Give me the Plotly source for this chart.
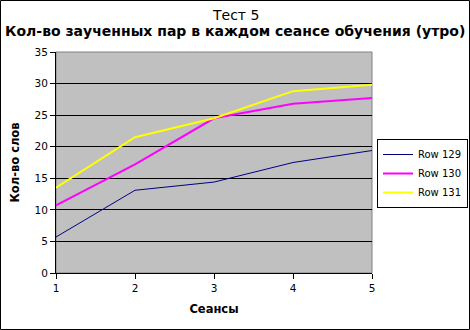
import plotly.graph_objects as go

sessions = [1, 2, 3, 4, 5]
row129 = [5.7, 13.1, 14.4, 17.5, 19.4]
row130 = [10.7, 17.2, 24.5, 26.8, 27.7]
row131 = [13.5, 21.5, 24.5, 28.8, 29.8]
series_names = ["Row 129", "Row 130", "Row 131"]
colors = ["#000080", "#FF00FF", "#FFFF00"]
widths = [1, 2, 2]
title_line1 = "Тест 5"
title_line2 = "Кол-во заученных пар в каждом сеансе обучения (утро)"

W, H = 470, 330
L, R, T, B = 56, 98, 52, 57
pw, ph = W - L - R, H - T - B

def py(pix):
    return (T + ph - pix) / ph

def px(pix):
    return (pix - L) / pw

fig = go.Figure()
for name, vals, c, w in zip(series_names, [row129, row130, row131], colors, widths):
    fig.add_trace(go.Scatter(x=sessions, y=vals, mode="lines", name=name,
                             line=dict(color=c, width=w)))

font = "DejaVu Sans, sans-serif"
fig.update_layout(
    width=W, height=H,
    margin=dict(l=L, r=R, t=T, b=B, pad=0, autoexpand=False),
    paper_bgcolor="white", plot_bgcolor="#C0C0C0",
    font=dict(family=font, size=10, color="black"),
    showlegend=True,
    legend=dict(x=377 / W, y=1 - 139 / H, xref="container", yref="container",
                xanchor="left", yanchor="top", itemwidth=30,
                bordercolor="black", borderwidth=1, bgcolor="white",
                font=dict(size=10, family=font), tracegroupgap=0),
    xaxis=dict(range=[1, 5], tickvals=sessions, ticks="outside", ticklen=5,
               tickcolor="black", showline=True, linecolor="black", linewidth=1,
               showgrid=False, zeroline=False, mirror=False,
               tickfont=dict(size=10.5),
               title=dict(text="<b>Сеансы</b>", font=dict(size=11.5), standoff=12)),
    yaxis=dict(range=[0, 35], dtick=5, ticks="outside", ticklen=5,
               tickcolor="black", showline=True, linecolor="black", linewidth=1,
               showgrid=True, gridcolor="black", gridwidth=1, zeroline=False,
               tickfont=dict(size=10.5),
               title=dict(text="<b>Кол-во слов</b>", font=dict(size=11.5), standoff=12)),
)
fig.add_annotation(text=title_line1, xref="paper", yref="paper", x=px(235), y=py(15),
                   xanchor="center", yanchor="middle", showarrow=False,
                   font=dict(size=14, family=font))
fig.add_annotation(text="<b>" + title_line2 + "</b>", xref="paper", yref="paper",
                   x=px(235), y=py(31), xanchor="center", yanchor="middle",
                   showarrow=False, font=dict(size=14, family=font))
# plot area border (top/right gray)
fig.add_shape(type="rect", xref="paper", yref="paper", x0=0, x1=1, y0=0, y1=1,
              line=dict(color="#808080", width=1), layer="below")
# outer chart border
fig.add_shape(type="rect", xref="paper", yref="paper",
              x0=px(0.5), x1=px(W - 0.5), y0=py(H - 0.5), y1=py(0.5),
              line=dict(color="black", width=1))
fig.write_html("out.html")
